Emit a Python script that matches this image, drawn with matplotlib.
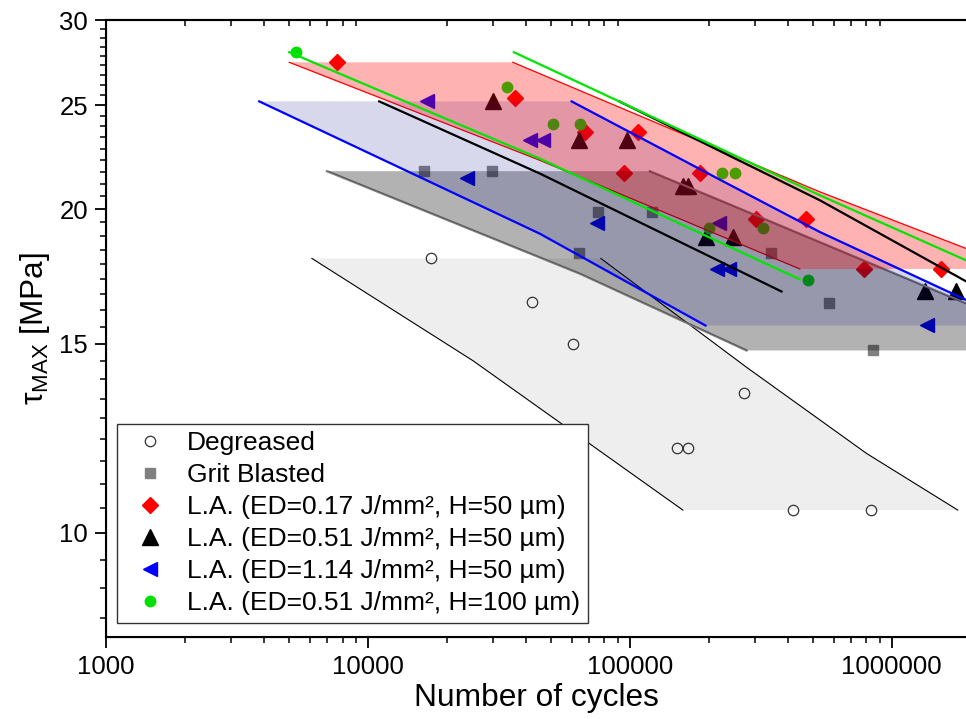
import numpy as np
import matplotlib
matplotlib.use('Agg')
import matplotlib.pyplot as plt
from matplotlib.ticker import FixedLocator, FixedFormatter, NullFormatter, LogLocator

plt.rcParams['font.family'] = ['Liberation Sans', 'DejaVu Sans']
plt.rcParams['mathtext.fontset'] = 'custom'
plt.rcParams['mathtext.rm'] = 'Liberation Sans'

# measured points (cycles, tau_max MPa)
deg_x = [17400, 42400, 60600, 150800, 166000, 272300, 417800, 836600]
deg_y = [18.0, 16.4, 15.0, 12.0, 12.0, 13.5, 10.5, 10.5]

gb_x = [16300, 29700, 75300, 121000, 64000, 346800, 578000, 848000]
gb_y = [21.7, 21.7, 19.9, 19.9, 18.2, 18.2, 16.35, 14.8]

la017_x = [7600, 36400, 67300, 107600, 94900, 185800, 302000, 468800, 785000, 1547000]
la017_y = [27.4, 25.4, 23.6, 23.6, 21.6, 21.6, 19.6, 19.6, 17.6, 17.6]

la051_x = [30000, 64000, 97400, 159700, 166900, 194700, 247300, 1336000, 1766000]
la051_y = [25.2, 23.2, 23.2, 21.0, 21.0, 18.85, 18.85, 16.8, 16.8]

la114_x = [16800, 41500, 46400, 23800, 74600, 218600, 214200, 238100, 1366000]
la114_y = [25.2, 23.2, 23.2, 21.4, 19.4, 19.4, 17.6, 17.6, 15.6]

la051h_x = [5310, 34000, 50800, 64400, 223900, 251600, 200700, 322700, 479200]
la051h_y = [28.0, 26.0, 24.0, 24.0, 21.6, 21.6, 19.2, 19.2, 17.2]

# scatter bands
deg_band_x = [6113, 77500, 279700, 802800, 1786000, 159300, 25170, 6113]
deg_band_y = [18.0, 18.0, 14.25, 11.85, 10.5, 10.5, 14.46, 18.0]
deg_up_x, deg_up_y = [77500, 279700, 802800, 1786000], [18.0, 14.25, 11.85, 10.5]
deg_lo_x, deg_lo_y = [6113, 25170, 159300], [18.0, 14.46, 10.5]

gb_band_x = [6975, 119200, 220600, 1920000, 1920000, 278900, 64450, 6975]
gb_band_y = [21.7, 21.7, 20.39, 16.35, 14.78, 14.78, 17.42, 21.7]
gb_up_x, gb_up_y = [119200, 220600, 1920000], [21.7, 20.39, 16.35]
gb_lo_x, gb_lo_y = [6975, 64450, 278900], [21.7, 17.42, 14.78]

red_band_x = [5008, 35760, 531200, 1920000, 1920000, 445600, 45340, 5008]
red_band_y = [27.4, 27.4, 20.76, 18.39, 17.6, 17.6, 22.21, 27.4]
red_up_x, red_up_y = [35760, 531200, 1920000], [27.4, 20.76, 18.39]
red_lo_x, red_lo_y = [5008, 45340, 445600], [27.4, 22.21, 17.6]

blue_band_x = [3846, 59920, 220600, 531200, 1920000, 1920000, 194500, 45340, 3846]
blue_band_y = [25.2, 25.2, 21.31, 19.05, 16.47, 15.59, 15.59, 18.98, 25.2]
blue_up_x, blue_up_y = [59920, 220600, 531200, 1920000], [25.2, 21.31, 19.05, 16.47]
blue_lo_x, blue_lo_y = [3846, 45340, 194500], [25.2, 18.98, 15.59]

blk_up_x, blk_up_y = [91040, 531200, 1920000], [25.2, 20.39, 17.14]
blk_lo_x, blk_lo_y = [11045, 45340, 379300], [25.2, 21.59, 16.77]

grn_up_x, grn_up_y = [36080, 531200, 1920000], [28.0, 20.61, 17.93]
grn_lo_x, grn_lo_y = [5008, 45340, 445600], [28.0, 22.29, 17.21]

fig = plt.figure(figsize=(9.66, 7.19), dpi=100)
ax = fig.add_axes([106/966, 82/719, 860/966, 617/719])
ax.set_xscale('log')
ax.set_yscale('log')

# degreased band at the back
ax.fill(deg_band_x, deg_band_y, color='#eeeeee', lw=0, zorder=1)
ax.plot(deg_up_x, deg_up_y, color='black', lw=0.8, zorder=1.5)
ax.plot(deg_lo_x, deg_lo_y, color='black', lw=0.8, zorder=1.5)

# points
ax.plot(deg_x, deg_y, 'o', mfc='none', mec='#333333', mew=0.9, ms=7.5, zorder=2, label='Degreased')
ax.plot(gb_x, gb_y, 's', color='#808080', ms=7.5, zorder=2, label='Grit Blasted')
ax.plot(la017_x, la017_y, 'D', color='#ff0000', ms=8, zorder=2, label='L.A. (ED=0.17 J/mm², H=50 µm)')
ax.plot(la051_x, la051_y, '^', color='black', ms=11, zorder=2, label='L.A. (ED=0.51 J/mm², H=50 µm)')
ax.plot(la114_x, la114_y, '<', color='#0000ff', ms=10, zorder=2, label='L.A. (ED=1.14 J/mm², H=50 µm)')
ax.plot(la051h_x, la051h_y, 'o', color='#00e000', ms=7.5, zorder=2, label='L.A. (ED=0.51 J/mm², H=100 µm)')

# band edges drawn under the shading
ax.plot(red_up_x, red_up_y, color='#ff0000', lw=0.9, zorder=3)
ax.plot(red_lo_x, red_lo_y, color='#ff0000', lw=0.9, zorder=3)
ax.plot(gb_up_x, gb_up_y, color='#7f7f7f', lw=1.6, zorder=3)
ax.plot(gb_lo_x, gb_lo_y, color='#7f7f7f', lw=1.6, zorder=3)

# shaded bands
ax.fill(gb_band_x, gb_band_y, color='black', alpha=0.3, lw=0, zorder=4)
ax.fill(blue_band_x, blue_band_y, color='#1a1a99', alpha=0.17, lw=0, zorder=4)
ax.fill(red_band_x, red_band_y, color='#ff0000', alpha=0.3, lw=0, zorder=4)

# band limit lines on top
ax.plot(blue_up_x, blue_up_y, color='#0000ff', lw=1.6, zorder=5)
ax.plot(blue_lo_x, blue_lo_y, color='#0000ff', lw=1.6, zorder=5)
ax.plot(blk_up_x, blk_up_y, color='black', lw=1.6, zorder=5)
ax.plot(blk_lo_x, blk_lo_y, color='black', lw=1.6, zorder=5)
ax.plot(grn_up_x, grn_up_y, color='#00e600', lw=1.6, zorder=5)
ax.plot(grn_lo_x, grn_lo_y, color='#00e600', lw=1.6, zorder=5)

ax.set_xlim(1000, 1920000)
ax.set_ylim(8, 30)

# ticks
ax.xaxis.set_major_locator(FixedLocator([1000, 10000, 100000, 1000000]))
ax.xaxis.set_major_formatter(FixedFormatter(['1000', '10000', '100000', '1000000']))
ax.xaxis.set_minor_locator(LogLocator(base=10, subs=np.arange(2, 10)))
ax.xaxis.set_minor_formatter(NullFormatter())
ax.yaxis.set_major_locator(FixedLocator([10, 15, 20, 25, 30]))
ax.yaxis.set_major_formatter(FixedFormatter(['10', '15', '20', '25', '30']))
ax.yaxis.set_minor_locator(FixedLocator(np.arange(5, 30.01, 5/9)))
ax.yaxis.set_minor_formatter(NullFormatter())
ax.tick_params(which='major', direction='out', length=8, width=1.3, labelsize=18.5, pad=5)
ax.tick_params(which='minor', direction='out', length=4.5, width=1.1)
ax.tick_params(top=False, right=False)

for s in ['left', 'bottom', 'top']:
    ax.spines[s].set_linewidth(1.5)
ax.spines['right'].set_visible(False)

axt = ax.twiny()
axt.set_xscale('log')
axt.set_xlim(ax.get_xlim())
axt.xaxis.set_major_locator(FixedLocator([]))
axt.xaxis.set_minor_locator(LogLocator(base=10, subs=np.arange(2, 10)))
axt.xaxis.set_minor_formatter(NullFormatter())
axt.tick_params(which='minor', direction='in', length=4, width=1.1)
axt.spines['right'].set_visible(False)
axt.spines['top'].set_linewidth(1.5)

ax.set_xlabel('Number of cycles', fontsize=22.8, labelpad=3)
ax.set_ylabel('τ$_{\\mathrm{MAX}}$ [MPa]', fontsize=22.8, labelpad=5)

leg = ax.legend(loc='lower left', bbox_to_anchor=(0.0128, 0.0227), borderaxespad=0,
                fontsize=19, frameon=True, fancybox=False, framealpha=1,
                edgecolor='#333333', numpoints=1, handlelength=1.9,
                handletextpad=0.44, labelspacing=0.3, borderpad=0.3)
leg.get_frame().set_linewidth(1.0)

fig.savefig('out.png', dpi=100)
